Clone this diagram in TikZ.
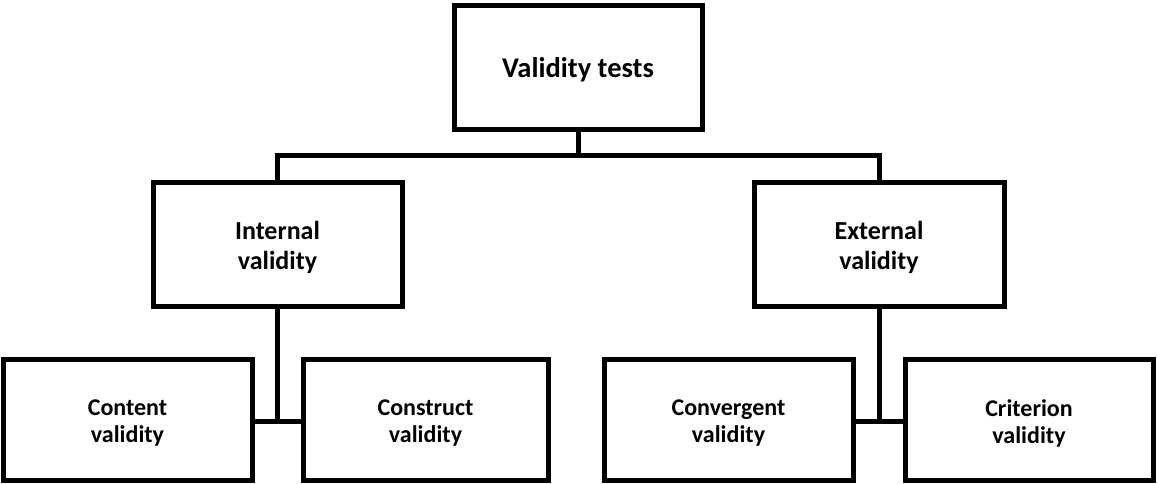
\documentclass[tikz,border=0pt]{standalone}
\usepackage{fontspec}
\setmainfont{Carlito}
\begin{document}
\begin{tikzpicture}[x=1pt,y=-1pt]
\tikzset{
  frame/.style={draw=black, line width=5pt, inner sep=0pt, outer sep=0pt},
  toplbl/.style={align=center, inner sep=0pt, font=\fontsize{28.5}{34}\selectfont\bfseries},
  midlbl/.style={align=center, inner sep=0pt, font=\fontsize{26}{30}\selectfont\bfseries},
  lowlbl/.style={align=center, inner sep=0pt, font=\fontsize{24}{27}\selectfont\bfseries},
  link/.style={draw=black, line width=5pt},
}
\useasboundingbox (0,0) rectangle (1157,484);
\fill[white] (0,0) rectangle (1157,484);

% root
\node[frame, minimum width=248pt, minimum height=124pt] (top) at (578,68) {};
\node[toplbl] (toptext) at ([yshift=-1.5pt]top.center) {Validity tests};

% second level
\node[frame, minimum width=249pt, minimum height=123pt] (int) at (277.5,244.5) {};
\node[midlbl] (inttext) at ([yshift=-3pt]int.center) {Internal\\validity};
\node[frame, minimum width=250pt, minimum height=123pt] (ext) at (879,244.5) {};
\node[midlbl] (exttext) at ([yshift=-3pt]ext.center) {External\\validity};

% third level
\node[frame, minimum width=249pt, minimum height=121pt] (cont) at (127.5,419.5) {};
\node[lowlbl] (conttext) at ([yshift=-4pt]cont.center) {Content\\validity};
\node[frame, minimum width=245pt, minimum height=121pt] (cons) at (425.5,419.5) {};
\node[lowlbl] (constext) at ([yshift=-4pt]cons.center) {Construct\\validity};
\node[frame, minimum width=249pt, minimum height=121pt] (conv) at (728.5,419.5) {};
\node[lowlbl] (convtext) at ([yshift=-4pt]conv.center) {Convergent\\validity};
\node[frame, minimum width=248pt, minimum height=121pt] (crit) at (1029,419.5) {};
\node[lowlbl] (crittext) at ([yshift=-4pt]crit.center) {Criterion\\validity};

% connectors
\coordinate (bus) at (578,156);
\draw[link] (top.south) -- (bus);
\draw[link] (int.north) |- (bus) -| (ext.north);

\coordinate (jl) at (277.5,421);
\draw[link] (int.south) -- (jl);
\draw[link] (jl -| cont.east) -- (jl -| cons.west);

\coordinate (jr) at (879,421);
\draw[link] (ext.south) -- (jr);
\draw[link] (jr -| conv.east) -- (jr -| crit.west);
\end{tikzpicture}
\end{document}
